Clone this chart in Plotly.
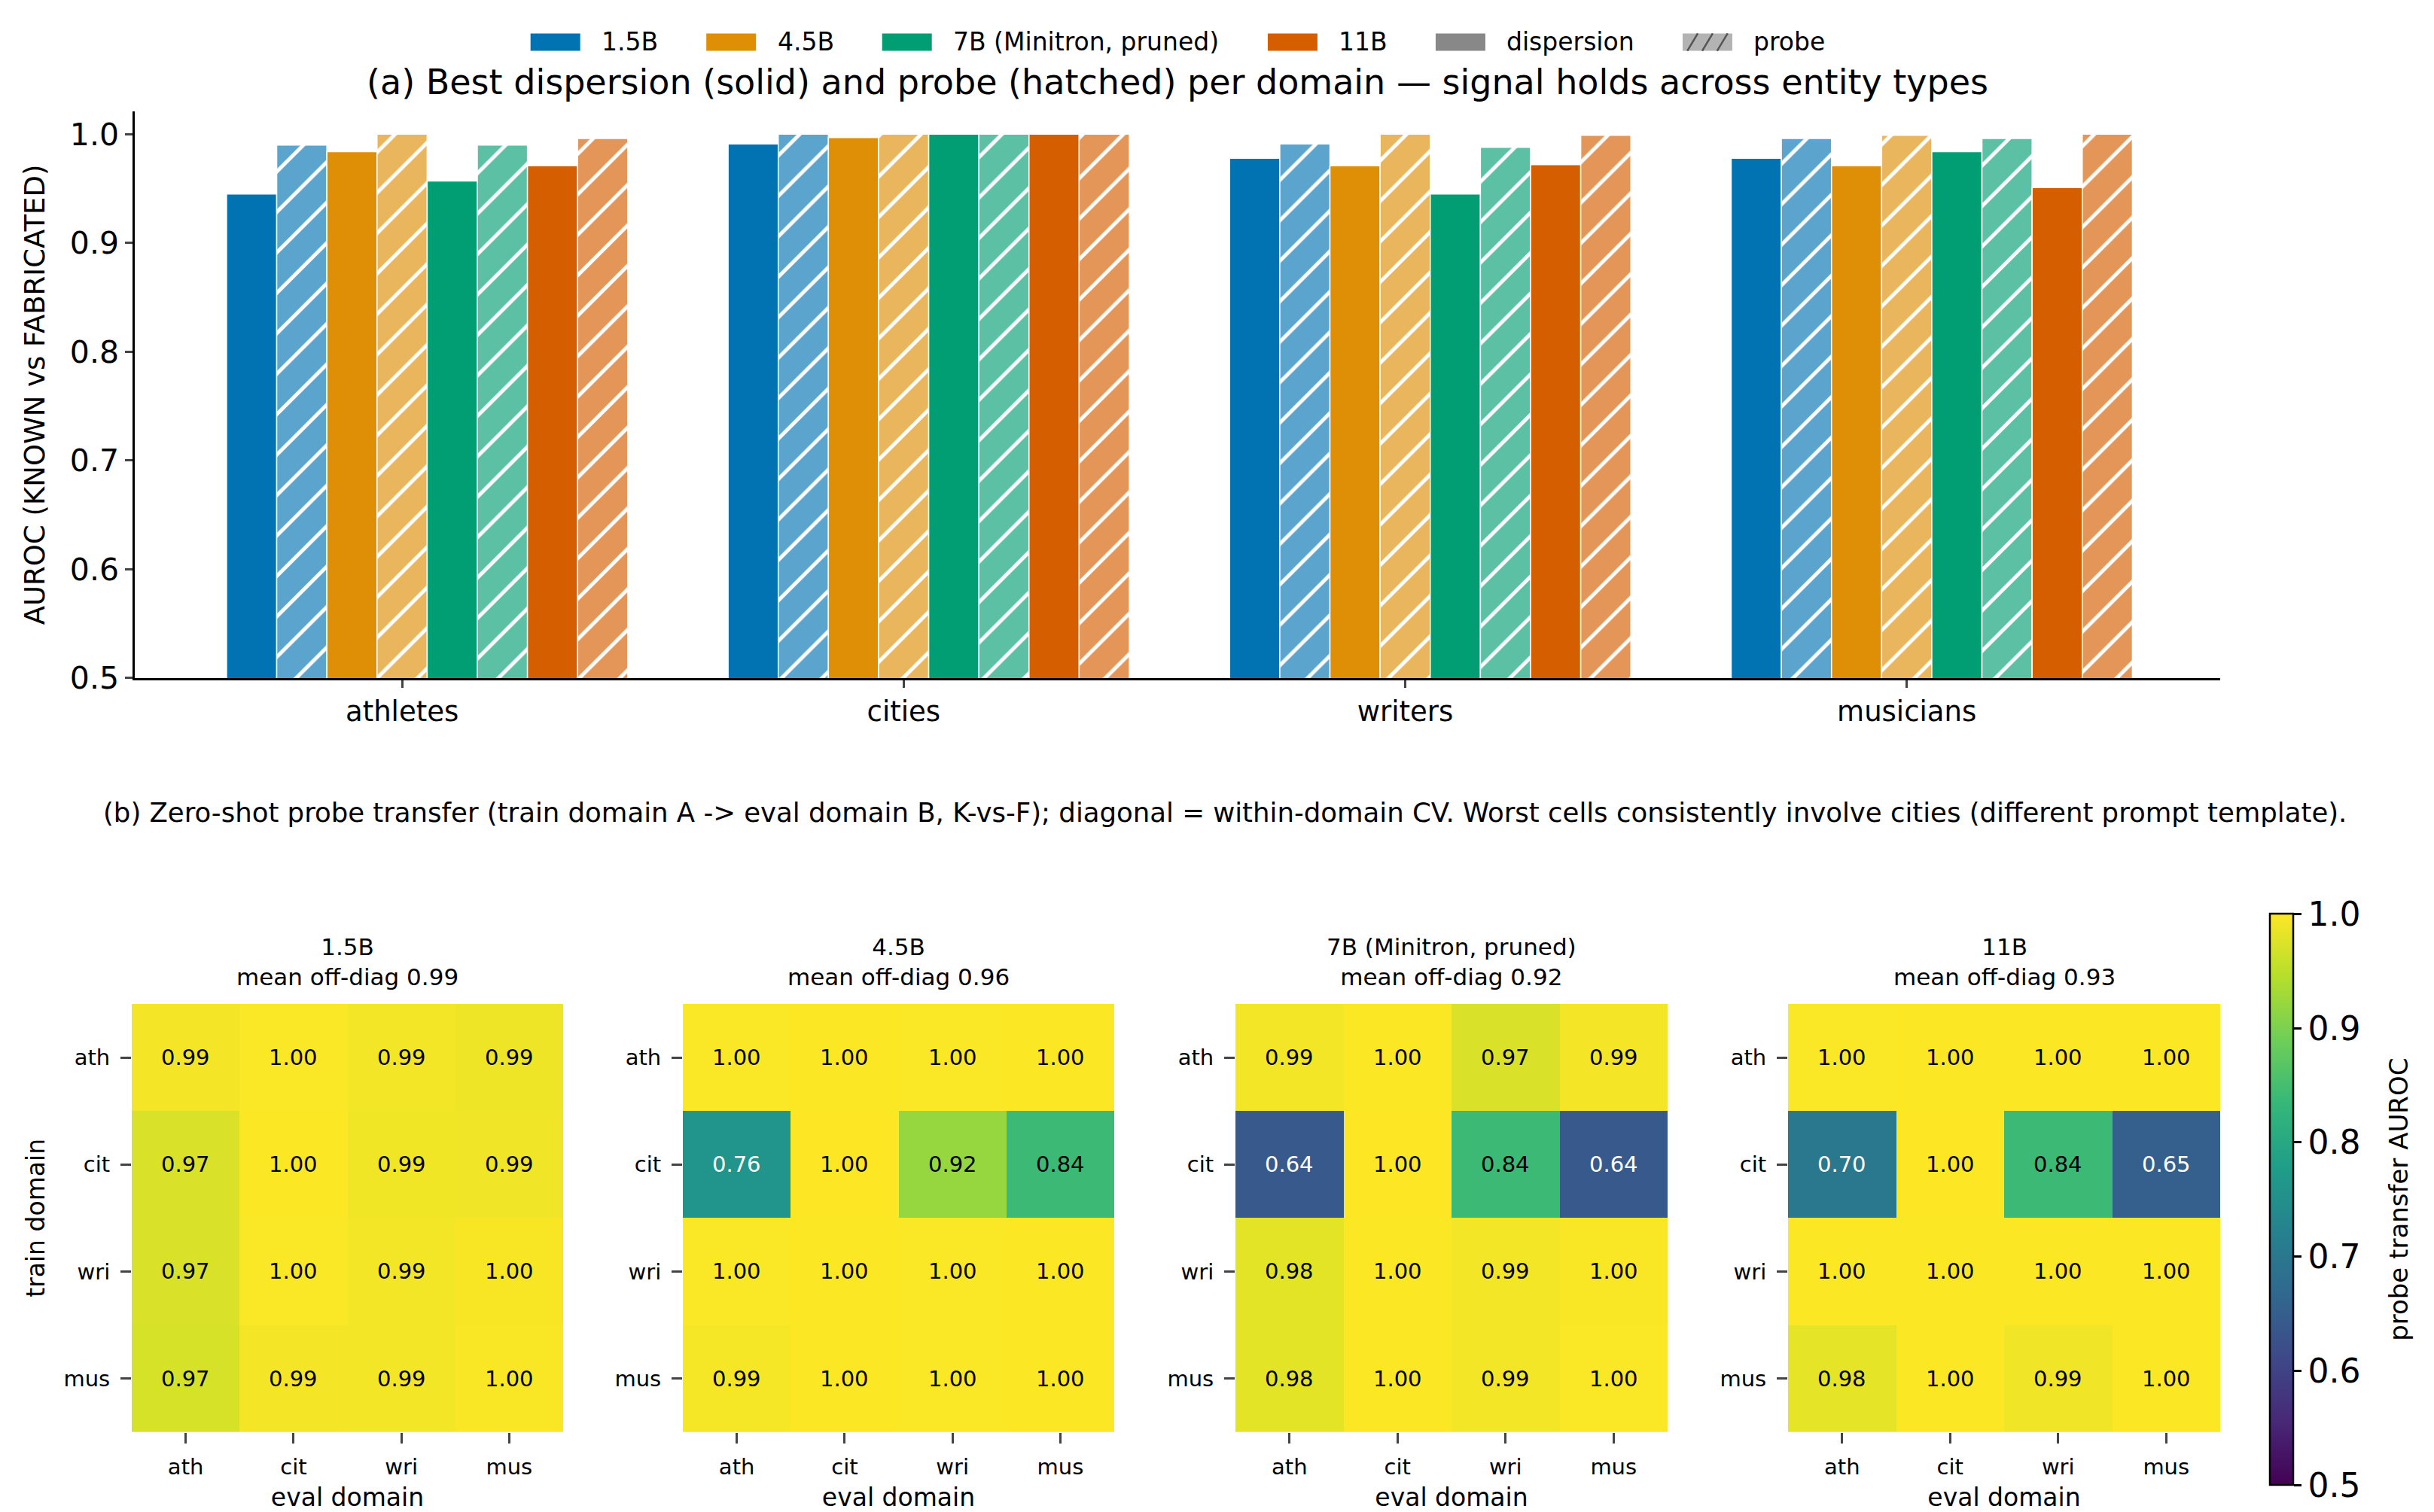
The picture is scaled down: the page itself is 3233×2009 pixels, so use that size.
import plotly.graph_objects as go

# ---------------- data ----------------
domains = ["athletes", "cities", "writers", "musicians"]
models = ["1.5B", "4.5B", "7B (Minitron, pruned)", "11B"]
short = ["ath", "cit", "wri", "mus"]

disp_15 = [0.945, 0.991, 0.978, 0.978]
probe_15 = [0.990, 1.000, 0.991, 0.996]
disp_45 = [0.984, 0.997, 0.971, 0.971]
probe_45 = [1.000, 1.000, 1.000, 0.999]
disp_7 = [0.957, 1.000, 0.945, 0.984]
probe_7 = [0.990, 1.000, 0.988, 0.996]
disp_11 = [0.971, 1.000, 0.972, 0.951]
probe_11 = [0.996, 1.000, 0.999, 1.000]

heat_15 = [[0.993, 0.998, 0.992, 0.988],
           [0.972, 0.999, 0.991, 0.990],
           [0.972, 0.998, 0.992, 0.996],
           [0.970, 0.993, 0.992, 0.997]]
heat_45 = [[0.998, 0.999, 0.998, 0.999],
           [0.760, 1.000, 0.920, 0.840],
           [0.998, 0.999, 0.998, 0.999],
           [0.994, 0.999, 0.998, 0.999]]
heat_7 = [[0.992, 0.999, 0.972, 0.993],
          [0.640, 1.000, 0.840, 0.640],
          [0.981, 0.999, 0.992, 0.997],
          [0.981, 0.999, 0.992, 0.998]]
heat_11 = [[0.998, 0.999, 0.999, 0.999],
           [0.700, 1.000, 0.840, 0.650],
           [0.999, 0.999, 0.999, 0.999],
           [0.982, 0.999, 0.990, 0.999]]
mean_offdiag = [0.99, 0.96, 0.92, 0.93]

yticks_top = [0.5, 0.6, 0.7, 0.8, 0.9, 1.0]
cbar_ticks = [0.5, 0.6, 0.7, 0.8, 0.9, 1.0]
legend_labels = ["1.5B", "4.5B", "7B (Minitron, pruned)", "11B", "dispersion", "probe"]

solid_colors = ["#0173B2", "#DE8F05", "#029E73", "#D55E00"]
probe_colors = ["#5AA4CD", "#EAB65D", "#5BC0A4", "#E49659"]

disp_vals = [disp_15, disp_45, disp_7, disp_11]
probe_vals = [probe_15, probe_45, probe_7, probe_11]
heats = [heat_15, heat_45, heat_7, heat_11]

W, H = 3233, 2009
FONT = "DejaVu Sans"
S = 1.012  # vertical layout scale


def px(x):
    return x / W


def py(y):
    return 1 - (y * S) / H


fig = go.Figure()

# ---------------- (a) bars ----------------
bw = 0.1
k = 0
for m in range(4):
    for kind in range(2):
        off = -0.35 + k * bw
        if kind == 0:
            fig.add_trace(go.Bar(
                x=domains, y=disp_vals[m], offset=off, width=bw,
                marker=dict(color=solid_colors[m], line=dict(color="white", width=1.5)),
                showlegend=False, xaxis="x", yaxis="y", hoverinfo="y"))
        else:
            fig.add_trace(go.Bar(
                x=domains, y=probe_vals[m], offset=off, width=bw,
                marker=dict(color=probe_colors[m], line=dict(color="white", width=1.5),
                            pattern=dict(shape="/", fgcolor="white", bgcolor=probe_colors[m],
                                         size=38, solidity=0.13, fillmode="replace")),
                showlegend=False, xaxis="x", yaxis="y", hoverinfo="y"))
        k += 1

# ---------------- (b) heatmaps ----------------
hx = [(175, 748), (907, 1480), (1641, 2215), (2375, 2949)]
annotations = []
shapes = []
for i in range(4):
    xa = "x%d" % (i + 2)
    ya = "y%d" % (i + 2)
    fig.add_trace(go.Heatmap(z=heats[i], x=short, y=short, coloraxis="coloraxis",
                             xaxis=xa, yaxis=ya, xgap=0, ygap=0, hoverinfo="z"))
    for r in range(4):
        for c in range(4):
            v = heats[i][r][c]
            annotations.append(dict(x=short[c], y=short[r], xref=xa, yref=ya,
                                    text="%.2f" % v, showarrow=False,
                                    font=dict(family=FONT, size=29,
                                              color="white" if v < 0.8 else "black")))
    cx = (hx[i][0] + hx[i][1]) / 2
    annotations.append(dict(x=px(cx), y=py(1318), xref="paper", yref="paper",
                            xanchor="center", yanchor="bottom",
                            text="%s<br>mean off-diag %.2f" % (models[i], mean_offdiag[i]),
                            showarrow=False, font=dict(family=FONT, size=31, color="black")))

# ---------------- manual legend (matplotlib style patches) ----------------
LF = 33
em = {"1.5B": 2.276, "4.5B": 2.276, "7B (Minitron, pruned)": 10.722, "11B": 1.958,
      "dispersion": 5.14, "probe": 2.908}
hl, hh, tp, cs = 2.0 * LF, 0.7 * LF, 0.8 * LF, 2.0 * LF
total = sum(hl + tp + em[l] * LF for l in legend_labels) + cs * (len(legend_labels) - 1)
xcur = 1564 - total / 2
ly = 56
patch_fill = solid_colors + ["#888888", "#B3B3B3"]
for j, lab in enumerate(legend_labels):
    x0, x1 = xcur, xcur + hl
    shapes.append(dict(type="rect", xref="paper", yref="paper",
                       x0=px(x0), x1=px(x1), y0=py(ly + hh / 2), y1=py(ly - hh / 2),
                       fillcolor=patch_fill[j], line=dict(width=0), layer="above"))
    if lab == "probe":
        for t in [0.2, 0.5, 0.8]:
            xc = x0 + t * hl
            shapes.append(dict(type="line", xref="paper", yref="paper",
                               x0=px(xc - 7), x1=px(xc + 7),
                               y0=py(ly + hh / 2), y1=py(ly - hh / 2),
                               line=dict(color="#555555", width=2.5), layer="above"))
    annotations.append(dict(x=px(x1 + tp), y=py(ly), xref="paper", yref="paper",
                            xanchor="left", yanchor="middle", showarrow=False, text=lab,
                            font=dict(family=FONT, size=LF, color="black")))
    xcur = x1 + tp + em[lab] * LF + cs

# titles
annotations.append(dict(x=px(1564), y=py(109), xref="paper", yref="paper",
                        xanchor="center", yanchor="middle", showarrow=False,
                        text="(a) Best dispersion (solid) and probe (hatched) per domain \u2014 signal holds across entity types",
                        font=dict(family=FONT, size=46, color="black")))
annotations.append(dict(x=px(1627), y=py(1080), xref="paper", yref="paper",
                        xanchor="center", yanchor="middle", showarrow=False,
                        text="(b) Zero-shot probe transfer (train domain A -> eval domain B, K-vs-F); diagonal = within-domain CV. Worst cells consistently involve cities (different prompt template).",
                        font=dict(family=FONT, size=35.5, color="black")))
# colorbar title
annotations.append(dict(x=px(3186), y=py(1594), xref="paper", yref="paper",
                        xanchor="center", yanchor="middle", showarrow=False, textangle=-90,
                        text="probe transfer AUROC",
                        font=dict(family=FONT, size=34, color="black")))

layout = dict(
    width=W, height=H,
    margin=dict(l=0, r=0, t=0, b=0),
    paper_bgcolor="white", plot_bgcolor="white",
    font=dict(family=FONT, size=28, color="black"),
    barmode="overlay",
    showlegend=False,
    xaxis=dict(domain=[px(179), px(2949)], anchor="y", range=[-0.533, 3.625],
               showline=True, linecolor="black", linewidth=2.5, ticks="outside",
               ticklen=10, tickwidth=2.5, tickfont=dict(size=37), showgrid=False, zeroline=False),
    yaxis=dict(domain=[py(901), py(148)], anchor="x", range=[0.5, 1.021],
               tickvals=yticks_top, tickformat=".1f",
               showline=True, linecolor="black", linewidth=2.5, ticks="outside",
               ticklen=10, tickwidth=2.5, tickfont=dict(size=41), showgrid=False, zeroline=False,
               title=dict(text="AUROC (KNOWN vs FABRICATED)", font=dict(size=37), standoff=22)),
    coloraxis=dict(colorscale="Viridis", cmin=0.5, cmax=1.0,
                   colorbar=dict(x=px(3005), xanchor="left", y=py(1594), yanchor="middle",
                                 len=750 * S + 20, lenmode="pixels", thickness=31,
                                 thicknessmode="pixels",
                                 outlinewidth=2.5, outlinecolor="black",
                                 ticks="outside", ticklen=10, tickwidth=2.5, tickcolor="black",
                                 tickvals=cbar_ticks, tickformat=".1f",
                                 tickfont=dict(family=FONT, size=44))),
    annotations=annotations,
    shapes=shapes,
)

for i in range(4):
    xk = "xaxis%d" % (i + 2)
    yk = "yaxis%d" % (i + 2)
    layout[xk] = dict(domain=[px(hx[i][0]), px(hx[i][1])], anchor="y%d" % (i + 2),
                      ticks="outside", ticklen=14, tickwidth=2.5, showline=False,
                      ticklabelstandoff=6,
                      showgrid=False, zeroline=False, tickfont=dict(size=29),
                      title=dict(text="eval domain", font=dict(size=33), standoff=18))
    layout[yk] = dict(domain=[py(1903), py(1334)], anchor="x%d" % (i + 2),
                      autorange="reversed", ticks="outside", ticklen=14, tickwidth=2.5,
                      ticklabelstandoff=8,
                      showline=False, showgrid=False, zeroline=False, tickfont=dict(size=29))
layout["yaxis2"]["title"] = dict(text="train domain", font=dict(size=33), standoff=14)

fig.update_layout(**layout)
fig.write_html("out.html")
